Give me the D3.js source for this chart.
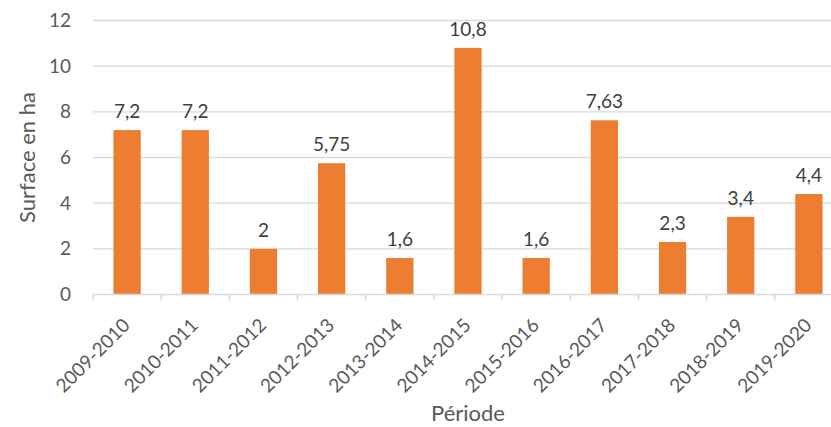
<!DOCTYPE html>
<html><head><meta charset="utf-8">
<script src="https://cdn.jsdelivr.net/npm/d3@7"></script>
<style>
html,body{margin:0;padding:0;background:#fff;}
svg{display:block;font-family:Lato, "Open Sans", sans-serif;}
</style></head>
<body>
<svg id="chart" width="831" height="427"></svg>
<script>
const categories = ["2009-2010","2010-2011","2011-2012","2012-2013","2013-2014","2014-2015","2015-2016","2016-2017","2017-2018","2018-2019","2019-2020"];
const values = [7.2, 7.2, 2, 5.75, 1.6, 10.8, 1.6, 7.63, 2.3, 3.4, 4.4];
const valueLabels = ["7,2","7,2","2","5,75","1,6","10,8","1,6","7,63","2,3","3,4","4,4"];
const yTicks = [0, 2, 4, 6, 8, 10, 12];
const yTitle = "Surface en ha";
const xTitle = "Période";

(function () {
const svg = d3.select("#chart");
const mLeft = 93, mRight = 843, mTop = 20.5, mBottom = 294.5;
const textColor = "#595959";
const small = 19, big = 22;

const x = d3.scaleBand().domain(categories).range([mLeft, mRight]).paddingInner(0.6).paddingOuter(0.3);
const y = d3.scaleLinear().domain([0, 12]).range([mBottom, mTop]);

// gridlines
svg.append("g").selectAll("line").data(yTicks.filter(d => d > 0)).join("line")
  .attr("x1", mLeft).attr("x2", mRight)
  .attr("y1", d => y(d)).attr("y2", d => y(d))
  .attr("stroke", "#d9d9d9").attr("stroke-width", 1.3);

// y axis labels
const yAxis = d3.axisLeft(y).tickValues(yTicks).tickSize(0).tickPadding(22).tickFormat(d3.format("d"));
const gy = svg.append("g").attr("transform", `translate(${mLeft},0)`).call(yAxis);
gy.select(".domain").remove();
gy.selectAll("text").attr("fill", textColor).attr("font-size", small).attr("font-family", "Lato, sans-serif");

// bars
svg.append("g").selectAll("rect").data(values).join("rect")
  .attr("x", (d, i) => x(categories[i]))
  .attr("width", x.bandwidth())
  .attr("y", d => y(d))
  .attr("height", d => y(0) - y(d))
  .attr("fill", "#ED7D31");

// value labels
svg.append("g").selectAll("text").data(values).join("text")
  .attr("x", (d, i) => x(categories[i]) + x.bandwidth() / 2)
  .attr("y", d => y(d) - 12)
  .attr("text-anchor", "middle")
  .attr("fill", "#404040")
  .attr("font-size", small)
  .text((d, i) => valueLabels[i]);

// x axis
const step = x.step();
const xAxis = d3.axisBottom(x).tickSize(0).tickFormat("");
const gx = svg.append("g").attr("transform", `translate(0,${mBottom})`).call(xAxis);
gx.select(".domain").attr("stroke", "#d9d9d9").attr("stroke-width", 1.5).attr("d", `M${mLeft},0H${mRight}`);
gx.selectAll(".tick").remove();
const boundaries = d3.range(categories.length + 1).map(i => mLeft + i * step);
svg.append("g").selectAll("line").data(boundaries).join("line")
  .attr("x1", d => d).attr("x2", d => d)
  .attr("y1", mBottom).attr("y2", mBottom + 6)
  .attr("stroke", "#d9d9d9").attr("stroke-width", 1.5);

// x labels rotated
svg.append("g").selectAll("text").data(categories).join("text")
  .attr("transform", d => `translate(${x(d) + x.bandwidth() / 2 + 4},${mBottom + 32}) rotate(-45)`)
  .attr("text-anchor", "end")
  .attr("fill", textColor)
  .attr("font-size", small)
  .text(d => d);

// axis titles
svg.append("text")
  .attr("transform", `translate(35,${(mTop + mBottom) / 2}) rotate(-90)`)
  .attr("text-anchor", "middle")
  .attr("fill", textColor)
  .attr("font-size", big)
  .text(yTitle);

svg.append("text")
  .attr("x", (mLeft + mRight) / 2).attr("y", 421)
  .attr("text-anchor", "middle")
  .attr("fill", textColor)
  .attr("font-size", big)
  .text(xTitle);
})();
</script>
</body></html>
